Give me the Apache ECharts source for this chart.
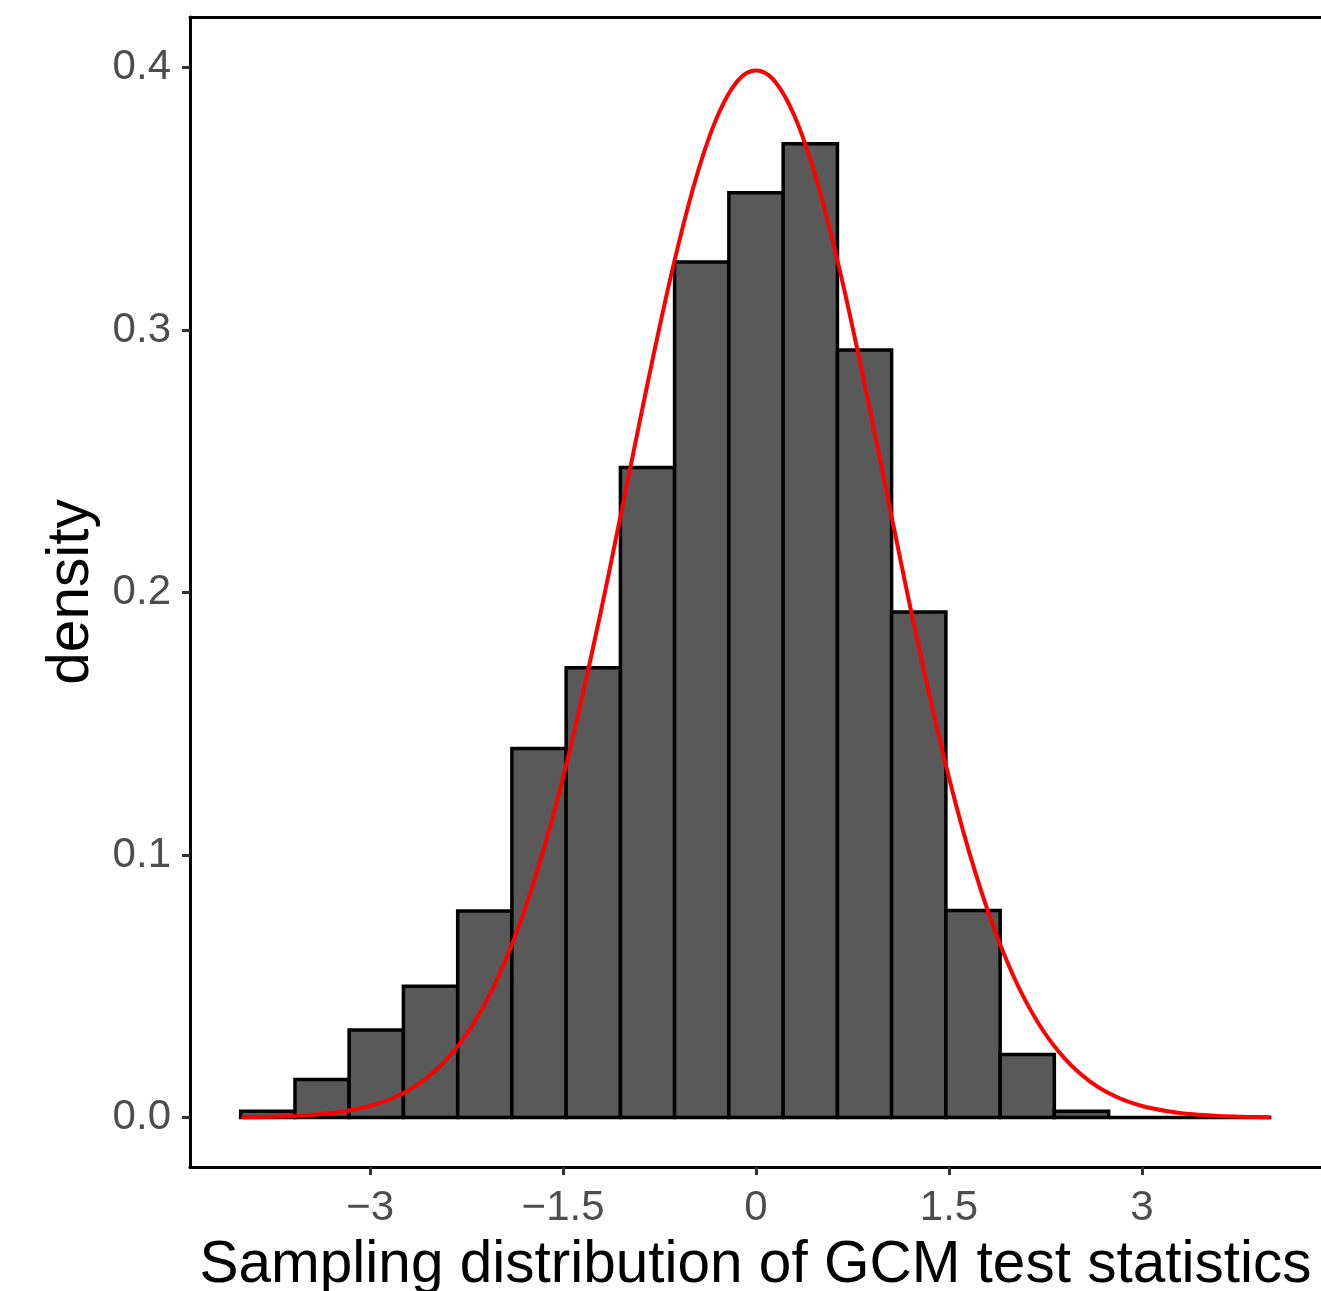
<!DOCTYPE html>
<html>
<head>
<meta charset="utf-8">
<script src="https://cdn.jsdelivr.net/npm/echarts@6/dist/echarts.min.js"></script>
<style>
html,body{margin:0;padding:0;background:#fff;overflow:hidden;}
#chart{width:1321px;height:1291px;}
</style>
</head>
<body>
<div id="chart"></div>
<script>
// Histogram bin edges (20 edges -> 19 bins) and densities
const binEdges = [-4.006, -3.584, -3.163, -2.741, -2.319, -1.898, -1.476, -1.054, -0.633, -0.211,
                  0.211, 0.633, 1.054, 1.476, 1.898, 2.319, 2.741, 3.163, 3.584, 4.006];
const binDensity = [0.0024, 0.0145, 0.0333, 0.0500, 0.0787, 0.1406, 0.1713, 0.2476, 0.3259, 0.3523,
                    0.3710, 0.2924, 0.1926, 0.0789, 0.0240, 0.0024, 0, 0, 0];

// Red reference curve
const curveX = [-4.0,-3.8,-3.6,-3.4,-3.2,-3.0,-2.8,-2.6,-2.4,-2.2,-2.0,-1.8,-1.6,-1.4,
                -1.2,-1.1,-1.0,-0.9,-0.8,-0.7,-0.6,-0.5,-0.4,-0.3,-0.2,-0.1,
                0.0,0.1,0.2,0.3,0.4,0.5,0.6,0.7,0.8,0.9,1.0,1.1,1.2,
                1.4,1.6,1.8,2.0,2.2,2.4,2.6,2.8,3.0,3.2,3.4,3.6,3.8,4.0];
const curveY = [0.0001,0.0003,0.0006,0.0012,0.0024,0.0044,0.0079,0.0136,0.0224,0.0355,0.0540,0.0790,0.1109,0.1497,
                0.1942,0.2179,0.2420,0.2661,0.2897,0.3123,0.3332,0.3521,0.3683,0.3814,0.3910,0.3970,
                0.3989,0.3970,0.3910,0.3814,0.3683,0.3521,0.3332,0.3123,0.2897,0.2661,0.2420,0.2179,0.1942,
                0.1497,0.1109,0.0790,0.0540,0.0355,0.0224,0.0136,0.0079,0.0044,0.0024,0.0012,0.0006,0.0003,0.0001];

const xTicks = [-3, -1.5, 0, 1.5, 3];
const yTicks = [0, 0.1, 0.2, 0.3, 0.4];
const xTitle = 'Sampling distribution of GCM test statistics';
const yTitle = 'density';

const barData = binDensity.map((d, i) => [binEdges[i], binEdges[i + 1], d]);
const lineData = curveX.map((x, i) => [x, curveY[i]]);

const FONT = '"Liberation Sans", Arial, Helvetica, sans-serif';

const chart = echarts.init(document.getElementById('chart'), null, {renderer: 'canvas', width: 1321, height: 1291});
chart.setOption({
  animation: false,
  backgroundColor: '#ffffff',
  grid: {left: 190, width: 1131, top: 17, height: 1150, containLabel: false, outerBoundsMode: 'none'},
  xAxis: [{
    type: 'value',
    min: -4.40, max: 4.392,
    position: 'bottom',
    splitLine: {show: false},
    axisLine: {show: true, onZero: false, lineStyle: {color: '#000', width: 3}},
    axisTick: {show: true, length: 8, lineStyle: {color: '#333', width: 3}, customValues: xTicks},
    axisLabel: {
      customValues: xTicks,
      margin: 20,
      fontSize: 42, fontFamily: FONT, color: '#4D4D4D',
      formatter: v => (v < 0 ? '\u2212' + Math.abs(v) : String(v))
    },
    name: xTitle,
    nameLocation: 'middle',
    nameGap: 69,
    nameTextStyle: {fontSize: 58.5, fontFamily: FONT, color: '#000'}
  }, {
    type: 'value',
    min: -4.40, max: 4.392,
    position: 'top',
    splitLine: {show: false},
    axisLine: {show: true, onZero: false, lineStyle: {color: '#000', width: 3}},
    axisTick: {show: false},
    axisLabel: {show: false}
  }],
  yAxis: {
    type: 'value',
    min: -0.018857, max: 0.41924,
    splitLine: {show: false},
    axisLine: {show: true, onZero: false, lineStyle: {color: '#000', width: 3}},
    axisTick: {show: true, length: 8, lineStyle: {color: '#333', width: 3}, customValues: yTicks},
    axisLabel: {
      customValues: yTicks,
      margin: 19,
      fontSize: 42, fontFamily: FONT, color: '#4D4D4D',
      formatter: v => v.toFixed(1)
    },
    name: yTitle,
    nameLocation: 'middle',
    nameGap: 88,
    nameTextStyle: {fontSize: 58.5, fontFamily: FONT, color: '#000'}
  },
  series: [{
    type: 'custom',
    xAxisIndex: 0,
    data: barData,
    encode: {x: [0, 1], y: 2},
    renderItem: function (params, api) {
      const p0 = api.coord([api.value(0), api.value(2)]);
      const p1 = api.coord([api.value(1), 0]);
      return {
        type: 'rect',
        shape: {x: p0[0], y: p0[1], width: p1[0] - p0[0], height: p1[1] - p0[1]},
        style: {fill: '#595959', stroke: '#000', lineWidth: 3.5}
      };
    },
    z: 2
  }, {
    type: 'line',
    xAxisIndex: 0,
    data: lineData,
    showSymbol: false,
    smooth: 0.3,
    lineStyle: {color: '#FF0000', width: 4},
    z: 3
  }]
});
</script>
</body>
</html>
